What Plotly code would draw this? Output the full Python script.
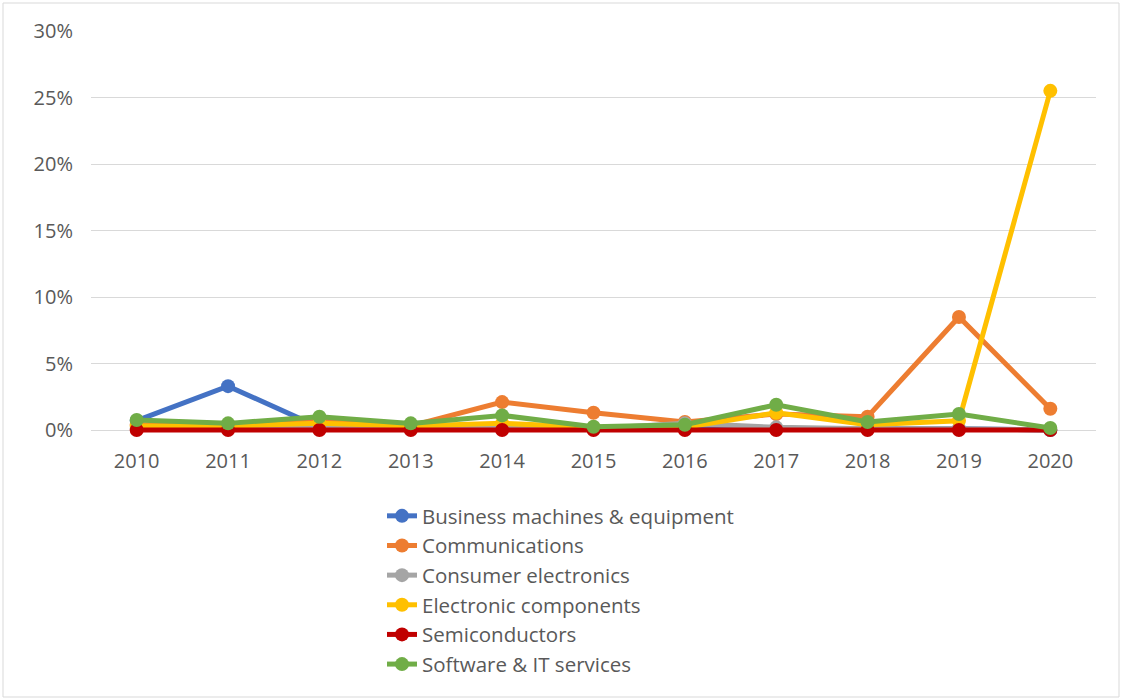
import plotly.graph_objects as go

years = ["2010", "2011", "2012", "2013", "2014", "2015", "2016", "2017", "2018", "2019", "2020"]

business_machines = [0.7, 3.3, 0.2, 0.1, 0.1, 0.1, 0.1, 0.1, 0.1, 0.1, 0.0]
communications = [0.4, 0.4, 0.7, 0.3, 2.1, 1.3, 0.6, 1.2, 1.0, 8.5, 1.6]
consumer_electronics = [0.1, 0.1, 0.2, 0.1, 0.2, 0.1, 0.5, 0.2, 0.1, 0.1, 0.0]
electronic_components = [0.3, 0.3, 0.5, 0.3, 0.5, 0.2, 0.2, 1.3, 0.4, 0.7, 25.5]
semiconductors = [0.0, 0.0, 0.0, 0.0, 0.0, 0.0, 0.0, 0.0, 0.0, 0.0, 0.0]
software_it = [0.75, 0.5, 1.0, 0.5, 1.1, 0.25, 0.4, 1.9, 0.6, 1.2, 0.15]

series = [
    ("Business machines & equipment", business_machines, "#4472C4"),
    ("Communications", communications, "#ED7D31"),
    ("Consumer electronics", consumer_electronics, "#A5A5A5"),
    ("Electronic components", electronic_components, "#FFC000"),
    ("Semiconductors", semiconductors, "#C00000"),
    ("Software & IT services", software_it, "#70AD47"),
]

y_ticks = [0, 5, 10, 15, 20, 25, 30]
y_tick_labels = ["0%", "5%", "10%", "15%", "20%", "25%", "30%"]

fig = go.Figure()
for name, values, color in series:
    fig.add_trace(go.Scatter(
        x=years, y=values, name=name, mode="lines+markers",
        line=dict(color=color, width=5),
        marker=dict(color=color, size=14),
        cliponaxis=False,
    ))

W, H = 1122, 700
# a little room below 0% so the lines lying on zero are not cut in half
y_lo, y_hi = -0.6, 30
ml, mr, mt = 91, 26, 31
ph = round(399 * (y_hi - y_lo) / 30)
mb = H - mt - ph
pw = W - ml - mr

fig.update_layout(
    width=W, height=H,
    margin=dict(l=ml, r=mr, t=mt, b=mb),
    paper_bgcolor="white", plot_bgcolor="white",
    font=dict(family="Open Sans, sans-serif", size=20, color="#595959"),
    showlegend=True,
    legend=dict(
        orientation="v", x=(382 - ml) / pw, xanchor="left",
        y=(H - mb - 496) / ph, yanchor="top",
        font=dict(size=20.5, color="#595959"),
        itemwidth=30, tracegroupgap=0,
        bgcolor="rgba(0,0,0,0)",
    ),
    xaxis=dict(
        type="category", showgrid=False, showline=False,
        ticks="", tickfont=dict(size=20, color="#595959"),
        range=[-0.5, 10.5], ticklabelstandoff=9,
    ),
    yaxis=dict(
        range=[y_lo, y_hi], tickvals=y_ticks, ticktext=y_tick_labels,
        showgrid=True, gridcolor="#d9d9d9", gridwidth=1,
        zeroline=False, showline=False, ticks="",
        tickfont=dict(size=20, color="#595959"), ticklabelstandoff=17,
    ),
    shapes=[dict(
        type="rect", xref="paper", yref="paper",
        x0=(3 - ml) / pw, x1=(W - 3 - ml) / pw,
        y0=-(H - 3 - mt - ph) / ph, y1=(mt - 3) / ph + 1,
        line=dict(color="#d9d9d9", width=1), layer="below",
    )],
)

fig.write_html("out.html")
